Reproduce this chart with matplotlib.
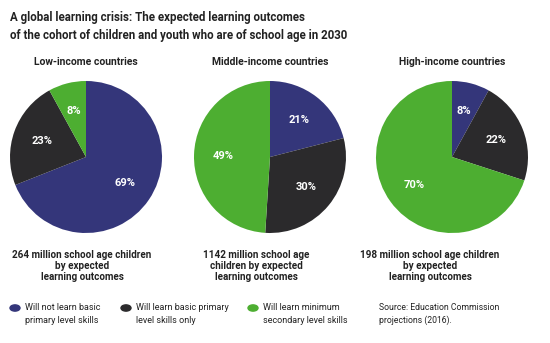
import matplotlib.pyplot as plt
from matplotlib.patches import Circle

plt.rcParams['font.family'] = ['Roboto', 'DejaVu Sans']

groups = ['Low-income countries', 'Middle-income countries', 'High-income countries']
shares = [[69, 23, 8], [21, 30, 49], [8, 22, 70]]
captions = ['264 million school age children\nby expected\nlearning outcomes',
            '1142 million school age\nchildren by expected\nlearning outcomes',
            '198 million school age children\nby expected\nlearning outcomes']
legend_labels = ['Will not learn basic\nprimary level skills',
                 'Will learn basic primary\nlevel skills only',
                 'Will learn minimum\nsecondary level skills']
colors = ['#34367a', '#2b2a2c', '#4dae31']

W, H = 550, 343
fig = plt.figure(figsize=(5.5, 3.43), dpi=100)

def px(x, y):
    return x / W, 1 - y / H

fig.text(*px(10, 17), 'A global learning crisis: The expected learning outcomes',
         fontsize=8.3, fontweight='bold', color='#222222', va='center')
fig.text(*px(10, 36), 'of the cohort of children and youth who are of school age in 2030',
         fontsize=8.3, fontweight='bold', color='#222222', va='center')

centers = [86, 270, 452]
cap_x = [82, 256, 430]
r = 76
for i, g in enumerate(groups):
    cx = centers[i]
    ax = fig.add_axes([(cx - r) / W, 1 - (157 + r) / H, 2 * r / W, 2 * r / H])
    ax.pie(shares[i], colors=colors, startangle=90, counterclock=False,
           autopct='%d%%', pctdistance=0.62,
           textprops=dict(color='white', fontsize=8, fontweight='bold'),
           wedgeprops=dict(linewidth=0))
    ax.set_xlim(-1, 1)
    ax.set_ylim(-1, 1)
    ax.set_aspect('equal')
    fig.text(*px(cx, 62), g, ha='center', va='center', fontsize=7.5,
             fontweight='bold', color='#222222')
    fig.text(*px(cap_x[i], 266), captions[i], ha='center', va='center',
             fontsize=7.1, fontweight='bold', color='#222222', linespacing=1.1)

leg_x = [15, 126, 253]
for i, lab in enumerate(legend_labels):
    x, y = px(leg_x[i], 308)
    fig.patches.append(Circle((x, y), 5 / W, transform=fig.transFigure,
                              color=colors[i]))
    fig.text(*px(leg_x[i] + 10, 314), lab, ha='left', va='center',
             fontsize=6.5, color='#222222', linespacing=1.45)
fig.text(*px(379, 314), 'Source: Education Commission\nprojections (2016).',
         ha='left', va='center', fontsize=6.2, color='#222222', linespacing=1.45)

fig.savefig('out.png', dpi=100)
